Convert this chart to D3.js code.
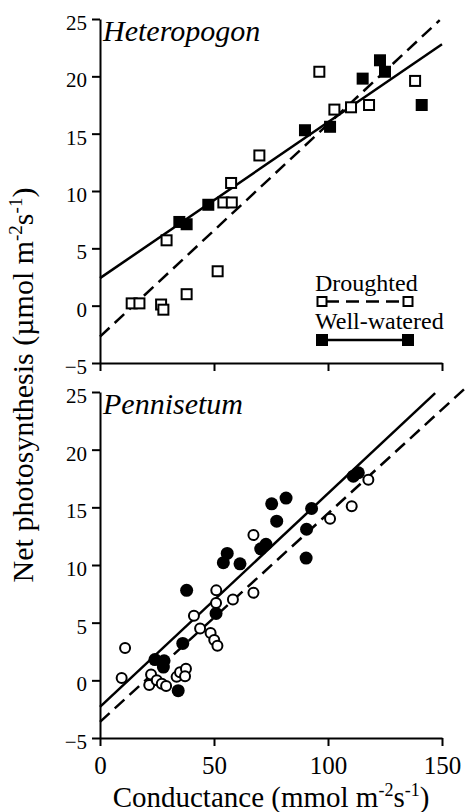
<!DOCTYPE html>
<html>
<head>
<meta charset="utf-8">
<script src="https://cdn.jsdelivr.net/npm/d3@7"></script>
<style>
  body { margin: 0; background: #fff; }
  svg text { font-family: "Liberation Serif", "DejaVu Serif", "Times New Roman", Times, serif; fill: #000; }
</style>
</head>
<body>
<div id="chart"></div>
<script>
// conductance (mmol m-2 s-1), net photosynthesis (umol m-2 s-1)
const xTicks = [0, 50, 100, 150]
const yTicks = [-5, 0, 5, 10, 15, 20, 25]

const heteroDrought = [[13.9,0.2],[17.3,0.2],[26.8,0.1],[27.8,-0.35],[29.2,5.7],[38,1.0],[51.6,3.0],
  [54.1,9.0],[57.8,9.0],[57.5,10.7],[69.9,13.1],[96.2,20.4],[102.8,17.1],[110.1,17.3],[118,17.5],[138.2,19.6]]
const heteroWet = [[34.8,7.3],[38,7.1],[47.5,8.8],[89.9,15.3],[100.9,15.6],[115.2,19.8],[122.8,21.4],
  [125,20.4],[141.1,17.5]]
const heteroDroughtFit = [[0,-2.7],[149,24.9]]
const heteroWetFit = [[0,2.4],[150,22.8]]

const penniDrought = [[117.7,17.4],[110.4,15.1],[100.9,14.0],[67.3,12.6],[51,7.8],[67.3,7.6],[58.3,7.0],
  [50.9,6.7],[41.2,5.6],[43.9,4.5],[48.5,4.1],[50.1,3.5],[51.5,3.0],[11,2.8],[9.5,0.2],[22.4,0.5],
  [21.6,-0.4],[24.9,0],[27.1,-0.3],[29,-0.5],[33.6,0.3],[35.1,0.7],[37.7,1.0],[37.3,0.35]]
const penniWet = [[111.1,17.7],[113.3,18.0],[75.3,15.3],[81.6,15.8],[92.8,14.9],[77.5,13.8],[90.6,13.1],
  [72.8,11.8],[70.5,11.4],[90.4,10.6],[55.8,11.0],[54.1,10.2],[61.4,10.1],[38.0,7.8],[50.9,5.8],
  [36.3,3.2],[24.1,1.8],[28.1,1.7],[27.8,1.15],[34.3,-0.9]]
const penniDroughtFit = [[0,-3.6],[160,25.3]]
const penniWetFit = [[0,-2.3],[147,24.9]]

const W = 466, H = 812
const svg = d3.select('#chart').append('svg')
  .attr('width', W).attr('height', H)

const x = d3.scaleLinear().domain([0, 150]).range([100, 442])

function panel(yRange, name, drought, wet, dFit, wFit, shape, legend, xLabels) {
  const y = d3.scaleLinear().domain([-5, 25]).range(yRange)
  const g = svg.append('g')

  const yAxis = g.append('g')
    .attr('transform', `translate(${x(0)},0)`)
    .call(d3.axisLeft(y).tickValues(yTicks).tickSize(8).tickSizeOuter(0).tickPadding(5))
  yAxis.attr('font-family', null)
  yAxis.selectAll('text').attr('font-size', 21).attr('dy', '0.5em')

  const xAxis = g.append('g')
    .attr('transform', `translate(0,${y(-5)})`)
    .call(d3.axisBottom(x).tickValues(xTicks).tickSize(8).tickSizeOuter(0).tickPadding(10))
  xAxis.attr('font-family', null)
  if (xLabels) xAxis.selectAll('text').attr('font-size', 25)
  else xAxis.selectAll('text').remove()

  g.selectAll('.domain, .tick line').attr('stroke', '#000').attr('stroke-width', 2)

  g.append('text')
    .attr('x', 103).attr('y', y(25) + 22)
    .attr('font-size', 30).attr('font-style', 'italic')
    .text(name)

  const line = d3.line().x(d => x(d[0])).y(d => y(d[1]))
  g.append('path').datum(dFit).attr('d', line)
    .attr('fill', 'none').attr('stroke', '#000').attr('stroke-width', 2.5)
    .attr('stroke-dasharray', '13,7')
  g.append('path').datum(wFit).attr('d', line)
    .attr('fill', 'none').attr('stroke', '#000').attr('stroke-width', 2.5)

  if (shape === 'square') {
    g.selectAll('.dsq').data(drought).enter().append('rect')
      .attr('x', d => x(d[0]) - 5).attr('y', d => y(d[1]) - 5)
      .attr('width', 10).attr('height', 10)
      .attr('fill', '#fff').attr('stroke', '#000').attr('stroke-width', 2)
    g.selectAll('.wsq').data(wet).enter().append('rect')
      .attr('x', d => x(d[0]) - 6).attr('y', d => y(d[1]) - 6)
      .attr('width', 12).attr('height', 12)
      .attr('fill', '#000')
  } else {
    g.selectAll('.dc').data(drought).enter().append('circle')
      .attr('cx', d => x(d[0])).attr('cy', d => y(d[1])).attr('r', 5)
      .attr('fill', '#fff').attr('stroke', '#000').attr('stroke-width', 2)
    g.selectAll('.wc').data(wet).enter().append('circle')
      .attr('cx', d => x(d[0])).attr('cy', d => y(d[1])).attr('r', 6.5)
      .attr('fill', '#000')
  }

  if (legend) {
    const lg = g.append('g')
    lg.append('text').attr('x', 315).attr('y', 291).attr('font-size', 24).text('Droughted')
    lg.append('line').attr('x1', 322).attr('x2', 408).attr('y1', 301.5).attr('y2', 301.5)
      .attr('stroke', '#000').attr('stroke-width', 2.5).attr('stroke-dasharray', '13,7')
      .attr('stroke-dashoffset', -4)
    ;[322, 408].forEach(cx => lg.append('rect')
      .attr('x', cx - 4.5).attr('y', 297).attr('width', 9).attr('height', 9)
      .attr('fill', '#fff').attr('stroke', '#000').attr('stroke-width', 2))
    lg.append('text').attr('x', 315).attr('y', 329).attr('font-size', 24).text('Well-watered')
    lg.append('line').attr('x1', 322).attr('x2', 408).attr('y1', 340).attr('y2', 340)
      .attr('stroke', '#000').attr('stroke-width', 2.5)
    ;[322, 408].forEach(cx => lg.append('rect')
      .attr('x', cx - 6).attr('y', 334).attr('width', 12).attr('height', 12)
      .attr('fill', '#000'))
  }
}

panel([363, 19], 'Heteropogon', heteroDrought, heteroWet, heteroDroughtFit, heteroWetFit, 'square', true, false)
panel([738, 392], 'Pennisetum', penniDrought, penniWet, penniDroughtFit, penniWetFit, 'circle', false, true)

// axis titles
const xt = svg.append('text').attr('x', 271).attr('y', 807)
  .attr('text-anchor', 'middle').attr('font-size', 29)
xt.append('tspan').text('Conductance (mmol m')
xt.append('tspan').attr('font-size', 18).attr('dy', -11).text('-2')
xt.append('tspan').attr('dy', 11).text('s')
xt.append('tspan').attr('font-size', 18).attr('dy', -11).text('-1')
xt.append('tspan').attr('dy', 11).text(')')

const yt = svg.append('text')
  .attr('transform', 'translate(33,385) rotate(-90)')
  .attr('text-anchor', 'middle').attr('font-size', 30)
yt.append('tspan').text('Net photosynthesis (\u00b5mol m')
yt.append('tspan').attr('font-size', 19).attr('dy', -11).text('-2')
yt.append('tspan').attr('dy', 11).text('s')
yt.append('tspan').attr('font-size', 19).attr('dy', -11).text('-1')
yt.append('tspan').attr('dy', 11).text(')')
</script>
</body>
</html>
